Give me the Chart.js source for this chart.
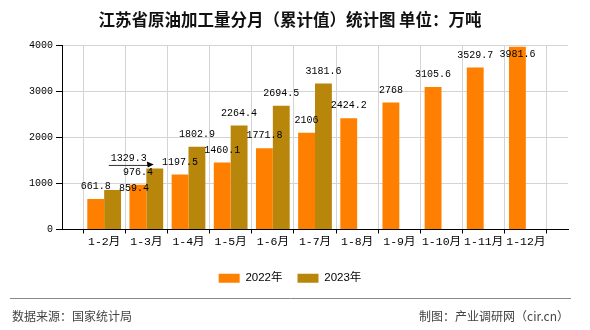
<!DOCTYPE html>
<html>
<head>
<meta charset="utf-8">
<script src="https://cdn.jsdelivr.net/npm/chart.js@4.4.1/dist/chart.umd.min.js"></script>
<style>
  html, body { margin: 0; padding: 0; background: #fff; }
  #wrap { width: 590px; height: 330px; }
</style>
</head>
<body>
<div id="wrap"><canvas id="chart" width="590" height="330"></canvas></div>
<script>
// 数据
const months = ['1-2月', '1-3月', '1-4月', '1-5月', '1-6月', '1-7月', '1-8月', '1-9月', '1-10月', '1-11月', '1-12月'];
const output2022 = [661.8, 976.4, 1197.5, 1460.1, 1771.8, 2106, 2424.2, 2768, 3105.6, 3529.7, 3981.6];
const output2023 = [859.4, 1329.3, 1802.9, 2264.4, 2694.5, 3181.6];
const seriesNames = ['2022年', '2023年'];
const yTicks = [0, 1000, 2000, 3000, 4000];

const titleText = '江苏省原油加工量分月（累计值）统计图 单位：万吨';
const sourceText = '数据来源：国家统计局';
const makerText = '制图：产业调研网（cir.cn）';

// 轴两端各留一个空位
const labels = ['', ...months, ''];
function pad(arr) {
  const out = [null];
  months.forEach((m, i) => out.push(i < arr.length ? arr[i] : null));
  out.push(null);
  return out;
}

const monoFont = "'Liberation Mono', 'Noto Sans CJK SC', monospace";
const cjkFont = "'Noto Sans CJK SC', sans-serif";

// 个别数值标签的偏移（避免重叠），键：系列-月份序号
const labelShift = {
  '1-0': { dx: 21.5, dy: 10.5 },
  '1-1': { dx: -26, dy: 2.5, leader: true }
};

// 柱顶数值标签
const valueLabels = {
  id: 'valueLabels',
  afterDatasetsDraw(chart) {
    const ctx = chart.ctx;
    const area = chart.chartArea;
    ctx.save();
    ctx.font = '10px ' + monoFont;
    ctx.fillStyle = '#000';
    ctx.textAlign = 'center';
    ctx.textBaseline = 'middle';
    chart.data.datasets.forEach((ds, di) => {
      const meta = chart.getDatasetMeta(di);
      meta.data.forEach((bar, i) => {
        const v = ds.data[i];
        if (v === null || v === undefined) return;
        const s = labelShift[di + '-' + (i - 1)] || { dx: 0, dy: 0 };
        const x = bar.x + s.dx;
        let y = bar.y - 12.5 + s.dy;
        if (y < area.top + 8.5) y = area.top + 8.5;
        ctx.fillText(String(v), x, y);
        if (s.leader) {
          const ly = bar.y - 3;
          ctx.strokeStyle = '#333';
          ctx.lineWidth = 1;
          ctx.beginPath();
          ctx.moveTo(x - 20, ly);
          ctx.lineTo(bar.x - 4, ly);
          ctx.stroke();
          ctx.beginPath();
          ctx.moveTo(bar.x - 1, ly - 1);
          ctx.lineTo(bar.x - 8, ly - 4);
          ctx.lineTo(bar.x - 7, ly + 2);
          ctx.closePath();
          ctx.fill();
        }
      });
    });
    ctx.restore();
  }
};

// 底部分隔线和来源
const footer = {
  id: 'footer',
  afterDraw(chart) {
    const ctx = chart.ctx;
    ctx.save();
    ctx.strokeStyle = '#888';
    ctx.lineWidth = 1;
    ctx.beginPath();
    ctx.moveTo(10, 298.5);
    ctx.lineTo(571, 298.5);
    ctx.stroke();
    ctx.fillStyle = '#444';
    ctx.font = '12px ' + cjkFont;
    ctx.textBaseline = 'middle';
    ctx.textAlign = 'left';
    ctx.fillText(sourceText, 12, 316);
    ctx.textAlign = 'right';
    ctx.fillText(makerText, 569, 316);
    ctx.restore();
  }
};

new Chart(document.getElementById('chart'), {
  type: 'bar',
  data: {
    labels: labels,
    datasets: [
      { label: seriesNames[0], data: pad(output2022), backgroundColor: '#ff8000' },
      { label: seriesNames[1], data: pad(output2023), backgroundColor: '#b8860b' }
    ]
  },
  options: {
    responsive: false,
    animation: false,
    categoryPercentage: 0.8,
    barPercentage: 1.0,
    layout: { padding: { left: 12, right: 22, top: 0, bottom: 36 } },
    plugins: {
      title: {
        display: true,
        text: titleText,
        color: '#111',
        font: { family: cjkFont, size: 16.5, weight: 'bold' },
        padding: { top: 10, bottom: 16 }
      },
      legend: {
        position: 'bottom',
        labels: {
          boxWidth: 21,
          boxHeight: 9,
          padding: 15,
          color: '#000',
          font: { family: "'Liberation Sans', " + cjkFont, size: 11.5 }
        }
      },
      tooltip: { enabled: false }
    },
    scales: {
      x: {
        offset: false,
        grid: { color: '#d4d4d4', tickColor: '#000', tickLength: 4 },
        border: { color: '#000' },
        ticks: {
          color: '#000',
          padding: 2,
          maxRotation: 0,
          autoSkip: false,
          font: { family: monoFont, size: 11.5 }
        },
        afterFit(s) { s.height = 28; }
      },
      y: {
        min: yTicks[0],
        max: yTicks[yTicks.length - 1],
        afterBuildTicks(s) { s.ticks = yTicks.map(v => ({ value: v })); },
        grid: { color: '#d4d4d4', tickColor: '#000', tickLength: 6 },
        border: { color: '#000' },
        ticks: {
          color: '#000',
          padding: 3,
          font: { family: monoFont, size: 10 },
          callback: v => String(v)
        },
        afterFit(s) { s.width = 50; }
      }
    }
  },
  plugins: [valueLabels, footer]
});
</script>
</body>
</html>
